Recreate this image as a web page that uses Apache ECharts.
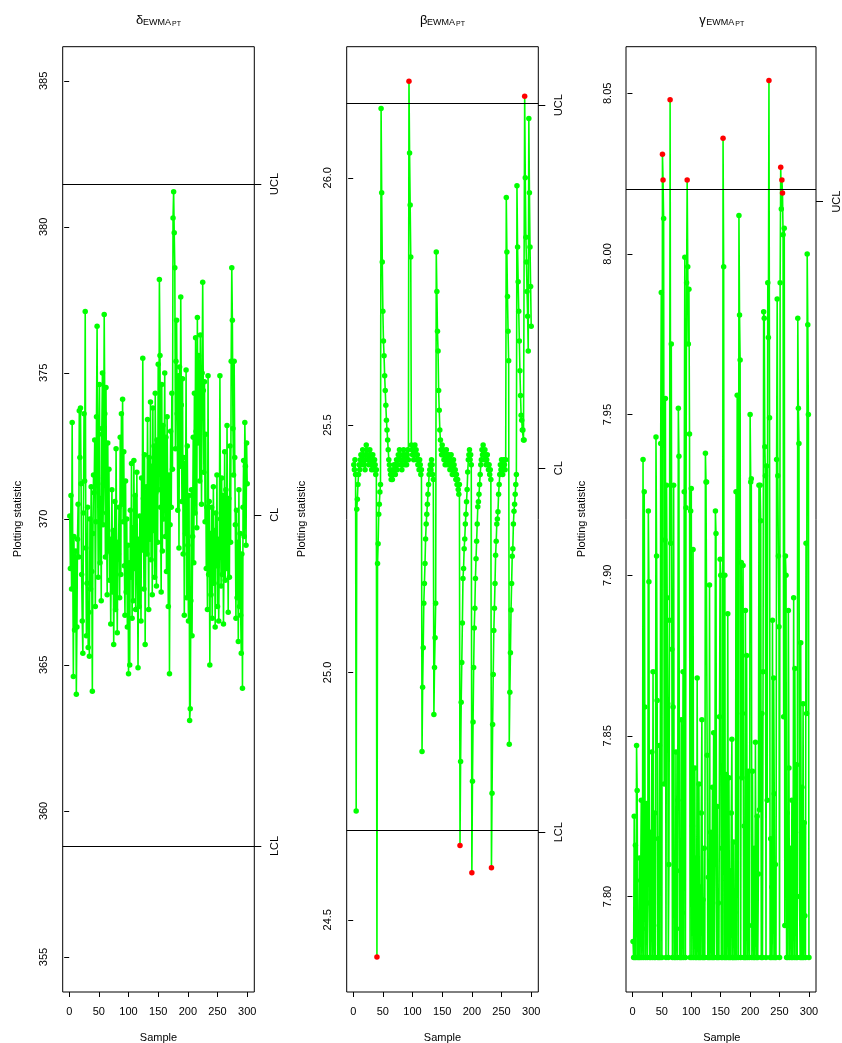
<!DOCTYPE html>
<html><head><meta charset="utf-8">
<script src="https://cdn.jsdelivr.net/npm/echarts@6/dist/echarts.min.js"></script>
<style>html,body{margin:0;padding:0;background:#fff}#c{width:842px;height:1043px}</style>
</head><body><div id="c"></div>
<script>
// ---------- data ----------
const xTicks = [0, 50, 100, 150, 200, 250, 300];
const limitNames = ['LCL', 'CL', 'UCL'];

const deltaTicks = [355, 360, 365, 370, 375, 380, 385];
const deltaTickLabels = ['355', '360', '365', '370', '375', '380', '385'];
const deltaLimits = [358.80, 370.14, 381.47];
const deltaValues = [
  370.1, 368.3, 370.8, 367.6, 373.3, 368.5, 364.6, 369.4, 366.2, 367.9,
  368.9, 364.0, 366.3, 369.3, 370.5, 368.7, 373.7, 372.1, 373.8, 371.2,
  368.1, 366.5, 365.4, 370.2, 373.6, 371.3, 377.1, 369.0, 366.0, 367.8,
  370.4, 365.6, 366.8, 365.3, 370.0, 367.6, 371.1, 368.2, 364.1, 369.5,
  371.5, 370.9, 372.7, 367.0, 369.9, 373.5, 376.6, 371.2, 368.0, 372.9,
  374.6, 368.5, 370.7, 367.2, 373.1, 375.0, 369.8, 371.4, 377.0, 373.6,
  368.7, 374.5, 370.2, 367.4, 372.6, 368.9, 371.7, 367.9, 369.3, 366.4,
  368.8, 371.0, 367.5, 369.6, 365.7, 368.2, 370.6, 366.9, 372.4, 368.6,
  366.1, 369.2, 368.8, 370.4, 367.3, 372.8, 368.1, 373.6, 370.5, 374.1,
  369.9, 372.3, 368.4, 366.7, 371.3, 367.5, 370.0, 366.3, 369.1, 364.7,
  368.5, 365.0, 370.3, 368.0, 371.9, 366.6, 369.7, 367.2, 372.0, 368.3,
  370.8, 366.9, 368.7, 371.6, 368.4, 364.9, 369.3, 367.0, 370.1, 368.9,
  366.5, 371.4, 369.0, 375.5, 370.7, 367.6, 372.2, 365.7, 369.5, 371.1,
  368.8, 373.4, 370.2, 366.9, 372.1, 369.3, 374.0, 368.6, 371.8, 367.4,
  373.8, 369.6, 372.5, 368.0, 374.3, 370.9, 367.7, 372.7, 369.2, 375.3,
  371.0, 378.2, 375.6, 370.4, 367.5, 374.6, 368.9, 373.2, 370.0, 371.9,
  375.0, 369.4, 372.8, 368.2, 373.5, 370.6, 367.0, 371.5, 364.7, 369.8,
  373.0, 370.4, 374.3, 371.7, 380.3, 381.2, 379.8, 378.6, 372.4, 375.4,
  376.8, 373.6, 370.3, 374.9, 369.0, 375.2, 371.8, 377.6, 373.9, 370.6,
  374.8, 368.8, 372.1, 366.7, 371.9, 369.5, 375.1, 367.3, 372.5, 369.1,
  366.5, 370.8, 363.1, 363.5, 367.2, 371.0, 366.0, 369.4, 372.8, 368.5,
  374.3, 370.2, 376.2, 373.0, 369.7, 376.9, 372.6, 375.6, 374.0, 371.3,
  376.3, 373.5, 370.5, 375.0, 378.1, 374.4, 371.6, 374.7, 369.9, 372.9,
  368.3, 370.4, 366.9, 374.9, 368.1, 370.6, 365.0, 369.5, 367.4, 370.4,
  366.6, 368.7, 371.1, 367.8, 369.6, 366.3, 370.2, 368.4, 371.5, 367.0,
  369.3, 366.5, 368.9, 374.9, 370.0, 367.7, 371.4, 368.1, 370.8, 366.4,
  369.0, 372.3, 367.9, 371.0, 368.3, 373.2, 369.4, 366.8, 370.7, 368.0,
  372.5, 369.2, 375.4, 378.6, 376.8, 373.1, 371.5, 375.4, 372.1, 369.8,
  366.6, 370.3, 367.3, 369.2, 365.8, 371.0, 367.0, 369.5, 366.7, 365.4,
  368.8, 364.2, 370.4, 372.0, 369.4, 373.3, 371.8, 369.1, 372.6, 371.2
];

const betaTicks = [24.5, 25.0, 25.5, 26.0];
const betaTickLabels = ['24.5', '25.0', '25.5', '26.0'];
const betaLimits = [24.677, 25.413, 26.147];
const betaValues = [
  25.42, 25.41, 25.43, 25.40, 24.72, 25.33, 25.35, 25.38, 25.40, 25.42,
  25.41, 25.43, 25.44, 25.42, 25.43, 25.45, 25.44, 25.42, 25.43, 25.41,
  25.44, 25.46, 25.45, 25.43, 25.44, 25.42, 25.43, 25.45, 25.44, 25.42,
  25.41, 25.43, 25.44, 25.42, 25.41, 25.43, 25.42, 25.40, 25.41, 24.425,
  25.22, 25.26, 25.32, 25.34, 25.365, 25.38, 26.14, 25.97, 25.83, 25.73,
  25.67, 25.64, 25.60, 25.57, 25.54, 25.51, 25.49, 25.47, 25.45, 25.43,
  25.42, 25.41, 25.40, 25.39, 25.40, 25.39, 25.41, 25.40, 25.42, 25.41,
  25.40, 25.42, 25.43, 25.41, 25.42, 25.44, 25.43, 25.45, 25.44, 25.42,
  25.43, 25.41, 25.42, 25.44, 25.45, 25.43, 25.42, 25.44, 25.43, 25.42,
  25.44, 25.45, 25.43, 26.195, 26.05, 25.945, 25.84, 25.46, 25.45, 25.44,
  25.45, 25.43, 25.44, 25.46, 25.44, 25.45, 25.43, 25.44, 25.42, 25.43,
  25.41, 25.43, 25.42, 25.40, 25.41, 24.84, 24.97, 25.05, 25.14, 25.18,
  25.22, 25.27, 25.30, 25.32, 25.34, 25.36, 25.38, 25.40, 25.41, 25.42,
  25.41, 25.43, 25.42, 25.40, 25.39, 24.915, 25.01, 25.07, 25.14, 25.85,
  25.77, 25.69, 25.65, 25.57, 25.53, 25.49, 25.47, 25.45, 25.44, 25.46,
  25.44, 25.45, 25.43, 25.44, 25.42, 25.43, 25.45, 25.44, 25.42, 25.43,
  25.44, 25.42, 25.41, 25.43, 25.44, 25.42, 25.40, 25.41, 25.43, 25.42,
  25.40, 25.41, 25.39, 25.40, 25.38, 25.39, 25.37, 25.36, 25.38, 24.65,
  24.82, 24.94, 25.02, 25.10, 25.19, 25.21, 25.25, 25.27, 25.30, 25.32,
  25.345, 25.37, 25.405, 25.43, 25.44, 25.45, 25.43, 25.44, 25.42, 24.595,
  24.78, 24.90, 25.01, 25.09, 25.13, 25.19, 25.23, 25.265, 25.30, 25.335,
  25.345, 25.36, 25.38, 25.40, 25.42, 25.43, 25.45, 25.44, 25.46, 25.44,
  25.43, 25.45, 25.44, 25.42, 25.43, 25.44, 25.42, 25.41, 25.42, 25.40,
  25.41, 25.39, 24.605, 24.756, 24.895, 24.996, 25.085, 25.13, 25.18, 25.237,
  25.265, 25.30, 25.31, 25.325, 25.36, 25.38, 25.40, 25.42, 25.41, 25.43,
  25.42, 25.40, 25.41, 25.43, 25.42, 25.41, 25.43, 25.96, 25.85, 25.76,
  25.69, 25.63, 24.855, 24.96, 25.04, 25.126, 25.18, 25.235, 25.25, 25.30,
  25.326, 25.34, 25.36, 25.38, 25.40, 25.984, 25.86, 25.79, 25.73, 25.67,
  25.61, 25.56, 25.52, 25.51, 25.49, 25.49, 25.47, 25.47, 26.165, 26.00,
  25.88, 25.83, 25.77, 25.72, 25.65, 26.12, 25.97, 25.86, 25.78, 25.70
];

const gammaTicks = [7.80, 7.85, 7.90, 7.95, 8.00, 8.05];
const gammaTickLabels = ['7.80', '7.85', '7.90', '7.95', '8.00', '8.05'];
const gammaLimits = [null, null, 8.0163];
const gammaValues = [
  7.786, 7.781, 7.825, 7.781, 7.816, 7.781, 7.847, 7.833, 7.781, 7.795,
  7.781, 7.812, 7.781, 7.805, 7.830, 7.781, 7.790, 7.936, 7.781, 7.926,
  7.859, 7.781, 7.805, 7.829, 7.781, 7.798, 7.920, 7.898, 7.781, 7.820,
  7.781, 7.809, 7.845, 7.781, 7.870, 7.791, 7.781, 7.826, 7.781, 7.943,
  7.906, 7.861, 7.781, 7.818, 7.781, 7.847, 7.781, 7.941, 7.988, 7.781,
  8.031, 8.023, 8.011, 7.835, 7.911, 7.955, 7.781, 7.928, 7.893, 7.860,
  7.781, 7.810, 7.886, 8.048, 7.910, 7.972, 7.877, 7.781, 7.859, 7.928,
  7.781, 7.800, 7.781, 7.845, 7.790, 7.781, 7.830, 7.952, 7.937, 7.781,
  7.808, 7.781, 7.855, 7.781, 7.795, 7.870, 7.781, 7.926, 7.999, 7.781,
  7.921, 7.991, 8.023, 7.996, 7.972, 7.989, 7.944, 7.781, 7.920, 7.927,
  7.781, 7.822, 7.908, 7.781, 7.797, 7.840, 7.781, 7.812, 7.781, 7.868,
  7.790, 7.781, 7.835, 7.781, 7.803, 7.781, 7.826, 7.855, 7.781, 7.799,
  7.781, 7.815, 7.781, 7.938, 7.929, 7.929, 7.844, 7.781, 7.806, 7.781,
  7.897, 7.781, 7.820, 7.788, 7.781, 7.834, 7.781, 7.851, 7.781, 7.810,
  7.920, 7.913, 7.781, 7.828, 7.781, 7.798, 7.781, 7.856, 7.905, 7.900,
  7.781, 7.815, 7.781, 8.036, 7.996, 7.781, 7.900, 7.781, 7.838, 7.781,
  7.797, 7.888, 7.781, 7.837, 7.781, 7.808, 7.781, 7.826, 7.849, 7.781,
  7.781, 7.817, 7.781, 7.795, 7.781, 7.926, 7.781, 7.956, 7.926, 7.781,
  8.012, 7.981, 7.967, 7.781, 7.904, 7.837, 7.857, 7.903, 7.781, 7.822,
  7.781, 7.889, 7.781, 7.875, 7.810, 7.781, 7.839, 7.791, 7.781, 7.950,
  7.929, 7.930, 7.781, 7.839, 7.791, 7.781, 7.815, 7.781, 7.848, 7.800,
  7.781, 7.825, 7.781, 7.807, 7.928, 7.827, 7.928, 7.917, 7.781, 7.857,
  7.781, 7.870, 7.982, 7.980, 7.940, 7.931, 7.781, 7.934, 7.830, 7.991,
  7.974, 8.054, 7.949, 7.781, 7.818, 7.781, 7.803, 7.886, 7.781, 7.868,
  7.832, 7.781, 7.810, 7.781, 7.936, 7.986, 7.931, 7.906, 7.884, 7.781,
  7.991, 8.027, 8.014, 8.023, 8.019, 8.006, 7.856, 8.008, 7.791, 7.906,
  7.900, 7.781, 7.826, 7.781, 7.889, 7.840, 7.781, 7.815, 7.797, 7.781,
  7.830, 7.781, 7.808, 7.893, 7.781, 7.871, 7.820, 7.781, 7.841, 7.781,
  7.980, 7.952, 7.941, 7.800, 7.781, 7.879, 7.781, 7.834, 7.781, 7.860,
  7.781, 7.823, 7.794, 7.781, 7.910, 7.857, 8.000, 7.978, 7.950, 7.781
];

// ---------- layout ----------
const FONT = '"Liberation Sans", Arial, sans-serif';
const TOP = 46.7, W = 191.6, H = 945.3;
const GREEN = '#00FF00', RED = '#FF0000';
const panels = [
  { vals: deltaValues, lim: deltaLimits, ticks: deltaTicks, labels: deltaTickLabels, min: 353.8, max: 386.17, left: 62.7, sym: 'δ' },
  { vals: betaValues,  lim: betaLimits,  ticks: betaTicks,  labels: betaTickLabels,  min: 24.354, max: 26.265, left: 346.7, sym: 'β' },
  { vals: gammaValues, lim: gammaLimits, ticks: gammaTicks, labels: gammaTickLabels, min: 7.7703, max: 8.0645, left: 626, sym: 'γ' }
];

const grid = [], xAxis = [], yAxis = [], series = [], graphic = [];
panels.forEach((p, i) => {
  grid.push({ left: p.left, top: TOP, width: W, height: H, show: true, borderColor: '#000', borderWidth: 1, backgroundColor: 'transparent' });
  xAxis.push({
    type: 'value', gridIndex: i, min: -10.96, max: 311.96,
    axisLine: { show: false }, splitLine: { show: false },
    axisTick: { show: true, customValues: xTicks, length: 5, lineStyle: { color: '#000', width: 1 } },
    axisLabel: { customValues: xTicks, margin: 14, color: '#000', fontSize: 11, fontFamily: FONT }
  });
  const lab = {};
  p.ticks.forEach((t, k) => { lab[t] = p.labels[k]; });
  yAxis.push({
    type: 'value', gridIndex: i, position: 'left', min: p.min, max: p.max,
    axisLine: { show: false }, splitLine: { show: false },
    axisTick: { show: true, customValues: p.ticks, length: 5, lineStyle: { color: '#000', width: 1 } },
    axisLabel: { customValues: p.ticks, rotate: 90, margin: 13, color: '#000', fontSize: 11, fontFamily: FONT,
      formatter: v => { for (const t of p.ticks) if (Math.abs(t - v) < 1e-6) return lab[t]; return ''; } }
  });
  const rv = [], rn = {};
  p.lim.forEach((v, k) => { if (v !== null && v > p.min && v < p.max) { rv.push(v); rn[v] = limitNames[k]; } });
  yAxis.push({
    type: 'value', gridIndex: i, position: 'right', min: p.min, max: p.max,
    axisLine: { show: false }, splitLine: { show: false },
    axisTick: { show: true, customValues: rv, length: 7, lineStyle: { color: '#000', width: 1 } },
    axisLabel: { customValues: rv, rotate: 90, margin: 15, color: '#000', fontSize: 11, fontFamily: FONT,
      formatter: v => { for (const t of rv) if (Math.abs(t - v) < 1e-6) return rn[t]; return ''; } }
  });
  const lcl = p.lim[0], ucl = p.lim[2];
  const data = p.vals.map((v, k) => {
    const out = (ucl !== null && v > ucl) || (lcl !== null && v < lcl);
    return { value: [k + 1, v], itemStyle: { color: out ? RED : GREEN } };
  });
  const ml = [];
  if (lcl !== null && lcl > p.min) ml.push({ yAxis: lcl });
  if (ucl !== null && ucl < p.max) ml.push({ yAxis: ucl });
  series.push({
    type: 'line', xAxisIndex: i, yAxisIndex: 2 * i, data,
    symbol: 'circle', symbolSize: 5.5, showSymbol: true, showAllSymbol: true,
    lineStyle: { color: GREEN, width: 1.6 }, animation: false, silent: true,
    markLine: { silent: true, symbol: 'none', label: { show: false }, animation: false,
      lineStyle: { color: '#000', type: 'solid', width: 1 }, data: ml }
  });
  const cx = p.left + W / 2;
  graphic.push(
    { type: 'text', x: cx - 22.5, y: 20, style: { text: p.sym, font: '13px ' + FONT, fill: '#000', textVerticalAlign: 'middle', textAlign: 'left' } },
    { type: 'text', x: cx - 15.5, y: 23, style: { text: 'EWMA', font: '9px ' + FONT, fill: '#000', textVerticalAlign: 'middle', textAlign: 'left' } },
    { type: 'text', x: cx + 13.5, y: 24.5, style: { text: 'PT', font: '7px ' + FONT, fill: '#000', textVerticalAlign: 'middle', textAlign: 'left' } },
    { type: 'text', x: cx, y: 1038, style: { text: 'Sample', font: '11px ' + FONT, fill: '#000', textVerticalAlign: 'middle', textAlign: 'center' } },
    { type: 'text', x: p.left - 44.5, y: 519, rotation: Math.PI / 2, style: { text: 'Plotting statistic', font: '11px ' + FONT, fill: '#000', textVerticalAlign: 'middle', textAlign: 'center' } }
  );
});

const chart = echarts.init(document.getElementById('c'), null, { renderer: 'canvas' });
chart.setOption({ animation: false, backgroundColor: '#fff', grid, xAxis, yAxis, series, graphic });
</script>
</body></html>
